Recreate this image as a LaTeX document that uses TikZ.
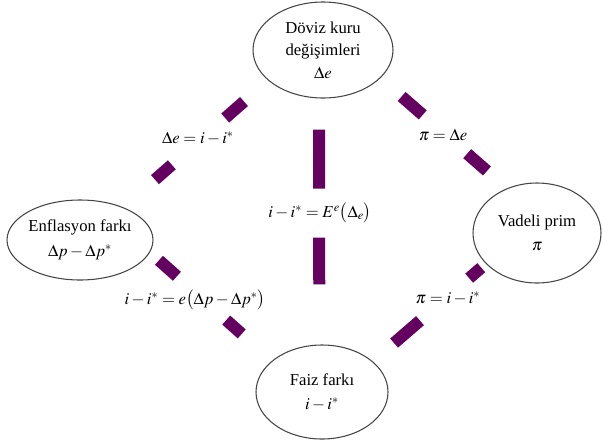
\documentclass[tikz,border=0pt]{standalone}
\usepackage{mathptmx}
\usepackage{fontspec}
\setmainfont{Liberation Serif}
\usetikzlibrary{shapes.geometric}
\definecolor{LinkPurple}{RGB}{100,0,95}
\definecolor{RimGray}{RGB}{70,70,70}

\begin{document}
\begin{tikzpicture}[x=0.75pt, y=-0.75pt,
    bubble/.style={ellipse, draw=RimGray, line width=0.8pt, fill=white,
                   inner sep=0pt, align=center,
                   font=\fontsize{12.5}{17}\selectfont},
    link/.style={LinkPurple, line width=9pt},
    eqn/.style={font=\fontsize{12.5}{15}\selectfont}]
  \useasboundingbox (0,0) rectangle (603,447);
  % the four corners
  \node[bubble, minimum width=105pt, minimum height=72pt] (kur) at (323,50)
    {Döviz kuru\\değişimleri\\$\Delta e$};
  \node[bubble, minimum width=105pt, minimum height=60pt] (enf) at (80,240)
    {Enflasyon farkı\\[2pt]$\Delta p - \Delta p^{*}$};
  \node[bubble, minimum width=96pt, minimum height=75pt] (prim) at (537,233)
    {Vadeli prim\\[1pt]$\pi$};
  \node[bubble, minimum width=99pt, minimum height=70.5pt] (faiz) at (322,392)
    {Faiz farkı\\[1pt]$i - i^{*}$};
  % broken links
  \draw[link, shorten <=24pt, shorten >=31.5pt,
        dash pattern=on 18.75pt off 53.25pt on 18.75pt off 100pt] (kur.209) -- (enf.37);
  \draw[link, shorten <=21pt, shorten >=19.8pt,
        dash pattern=on 21pt off 44.25pt on 21pt off 100pt] (kur.334) -- (prim.124);
  \draw[link, shorten <=9pt, shorten >=30.3pt,
        dash pattern=on 18pt off 49.5pt on 18pt off 100pt] (enf.350) -- (faiz.148);
  \draw[link, shorten <=4.5pt, shorten >=21pt,
        dash pattern=on 12pt off 48.75pt on 26.25pt off 100pt] (prim.211) -- (faiz.31);
  \draw[link, shorten <=23.25pt, shorten >=45pt,
        dash pattern=on 44.25pt off 36.75pt on 36.75pt off 100pt]
        ([xshift=-3pt]kur.south) -- ([xshift=-2pt]faiz.north);
  % equations
  \node[eqn] (eqTL) at (198,138) {$\Delta e = i - i^{*}$};
  \node[eqn] (eqTR) at (443,135) {$\pi = \Delta e$};
  \node[eqn] (eqMid) at (320,213) {$i - i^{*} = E^{e}\bigl(\Delta_{e}\bigr)$};
  \node[eqn] (eqLB) at (195,300) {$i - i^{*} = e\bigl(\Delta p - \Delta p^{*}\bigr)$};
  \node[eqn] (eqRB) at (448,298) {$\pi = i - i^{*}$};
\end{tikzpicture}
\end{document}
